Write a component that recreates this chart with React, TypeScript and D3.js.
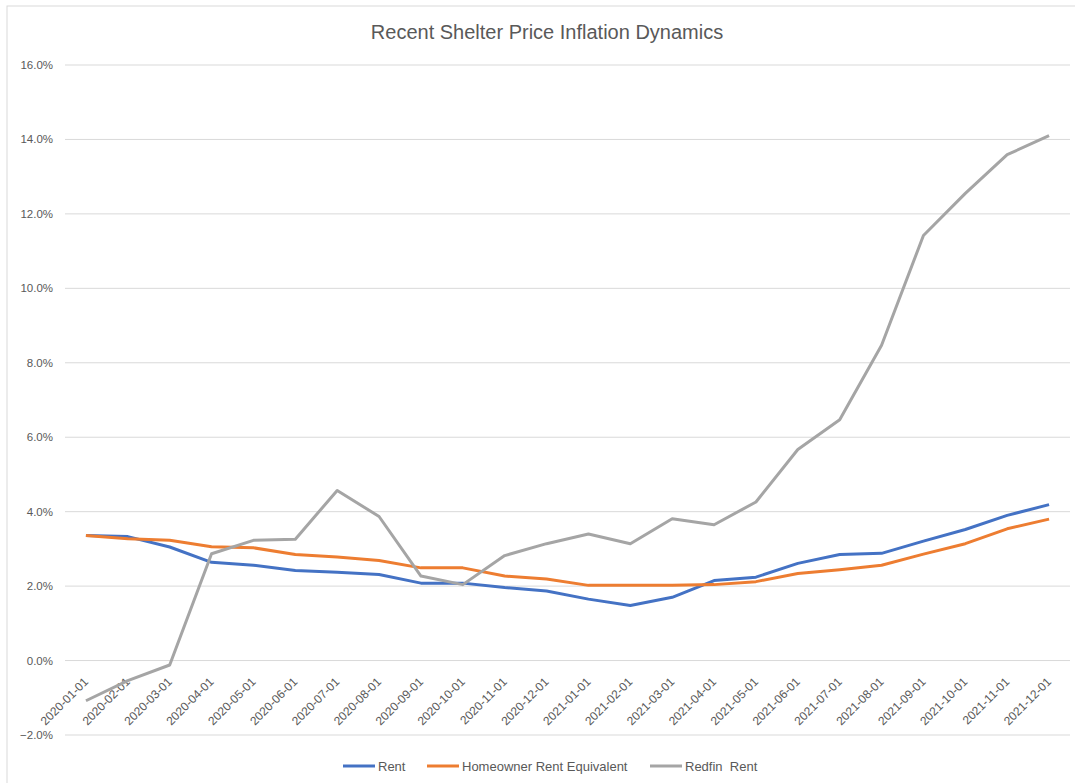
import * as d3 from "d3";

const months = [
  "2020-01-01", "2020-02-01", "2020-03-01", "2020-04-01", "2020-05-01", "2020-06-01",
  "2020-07-01", "2020-08-01", "2020-09-01", "2020-10-01", "2020-11-01", "2020-12-01",
  "2021-01-01", "2021-02-01", "2021-03-01", "2021-04-01", "2021-05-01", "2021-06-01",
  "2021-07-01", "2021-08-01", "2021-09-01", "2021-10-01", "2021-11-01", "2021-12-01",
];

const rent = [
  3.36, 3.33, 3.05, 2.64, 2.56, 2.42, 2.37, 2.31, 2.08, 2.08, 1.96, 1.87,
  1.65, 1.48, 1.70, 2.15, 2.24, 2.61, 2.85, 2.88, 3.21, 3.52, 3.90, 4.19,
];

const homeownerRentEquivalent = [
  3.36, 3.27, 3.23, 3.06, 3.03, 2.85, 2.78, 2.69, 2.49, 2.49, 2.27, 2.19,
  2.02, 2.02, 2.02, 2.04, 2.12, 2.34, 2.44, 2.56, 2.86, 3.14, 3.54, 3.80,
];

const redfinRent = [
  -1.08, -0.54, -0.12, 2.87, 3.23, 3.26, 4.57, 3.87, 2.27, 2.04, 2.82, 3.14,
  3.40, 3.14, 3.81, 3.65, 4.26, 5.67, 6.47, 8.47, 11.42, 12.55, 13.59, 14.1,
];

const yTicks = [-2, 0, 2, 4, 6, 8, 10, 12, 14, 16];

const series = [
  { name: "Rent", values: rent, color: "#4472C4" },
  { name: "Homeowner Rent Equivalent", values: homeownerRentEquivalent, color: "#ED7D31" },
  { name: "Redfin  Rent", values: redfinRent, color: "#A5A5A5" },
];

const width = 1075;
const height = 783;
const margin = { top: 65, right: 5, bottom: 48, left: 65 };
const font = "'Liberation Sans', Arial, sans-serif";
const textColor = "#595959";

export default function App() {
  const x = d3.scaleBand<string>()
    .domain(months)
    .range([margin.left, width - margin.right]);

  const y = d3.scaleLinear()
    .domain([-2, 16])
    .range([height - margin.bottom, margin.top]);

  const line = d3.line<number>()
    .x((_, i) => (x(months[i]) as number) + x.bandwidth() / 2)
    .y(d => y(d));

  // legend positions
  const legendItems = [
    { name: series[0].name, color: series[0].color, x: 343 },
    { name: series[1].name, color: series[1].color, x: 427 },
    { name: series[2].name, color: series[2].color, x: 650 },
  ];

  return (
    <div style={{ position: "absolute", left: 0, top: 0 }}>
      <svg width={width} height={height} style={{ display: "block", background: "#fff" }}>
        <rect x={7} y={6} width={width + 10} height={height + 10} fill="none" stroke="#D9D9D9" strokeWidth={1} />

        <text
          x={547}
          y={39}
          textAnchor="middle"
          fontFamily={font}
          fontSize={20}
          fill={textColor}
        >
          Recent Shelter Price Inflation Dynamics
        </text>

        {yTicks.map(t => (
          <g key={t}>
            <line x1={margin.left} x2={width - margin.right} y1={y(t)} y2={y(t)} stroke="#D9D9D9" strokeWidth={1} />
            <text
              x={53}
              y={y(t) + 4}
              textAnchor="end"
              fontFamily={font}
              fontSize={11.5}
              fill={textColor}
            >
              {d3.format(".1f")(t) + "%"}
            </text>
          </g>
        ))}

        {months.map(m => {
          const cx = (x(m) as number) + x.bandwidth() / 2;
          return (
            <text
              key={m}
              transform={`translate(${cx + 3},${y(0) + 22}) rotate(-45)`}
              textAnchor="end"
              fontFamily={font}
              fontSize={12}
              fill={textColor}
            >
              {m}
            </text>
          );
        })}

        {series.map(s => (
          <path
            key={s.name}
            d={line(s.values) as string}
            fill="none"
            stroke={s.color}
            strokeWidth={3}
            strokeLinejoin="round"
          />
        ))}

        {legendItems.map(item => (
          <g key={item.name}>
            <line x1={item.x} x2={item.x + 32} y1={766} y2={766} stroke={item.color} strokeWidth={3} />
            <text
              x={item.x + 35}
              y={770.5}
              fontFamily={font}
              fontSize={13}
              fill={textColor}
              style={{ whiteSpace: "pre" }}
            >
              {item.name}
            </text>
          </g>
        ))}
      </svg>
    </div>
  );
}
